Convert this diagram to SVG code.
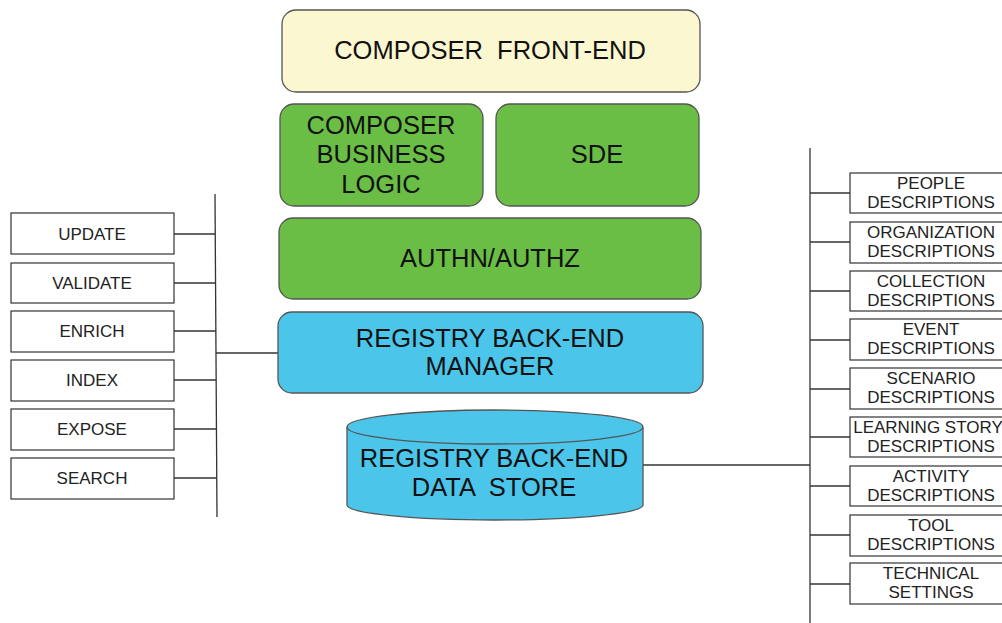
<svg xmlns="http://www.w3.org/2000/svg" width="1002" height="623" viewBox="0 0 1002 623">
  <style>
    .big { font-family: "Liberation Sans", Arial, sans-serif; font-size: 25.5px; fill: #111; text-anchor: middle; white-space: pre; }
    .sm { font-family: "Liberation Sans", Arial, sans-serif; font-size: 17px; fill: #222; text-anchor: middle; }
    .layer { stroke: #555; stroke-width: 1.3; }
    .box { fill: #fff; stroke: #333; stroke-width: 1.2; }
    .wire { stroke: #333; stroke-width: 1.3; fill: none; }
  </style>
  <rect width="1002" height="623" fill="#fff"/>

  <g id="connectors">
    <!-- left bus -->
    <line class="wire" x1="215" y1="194" x2="217" y2="517"/>
    <line class="wire" x1="216" y1="353" x2="279" y2="353"/>
    <line class="wire" x1="174" y1="234" x2="215" y2="234"/>
    <line class="wire" x1="174" y1="283" x2="216" y2="283"/>
    <line class="wire" x1="174" y1="331" x2="216" y2="331"/>
    <line class="wire" x1="174" y1="380" x2="216" y2="380"/>
    <line class="wire" x1="174" y1="429" x2="217" y2="429"/>
    <line class="wire" x1="174" y1="478" x2="217" y2="478"/>
    <!-- right bus -->
    <line class="wire" x1="810" y1="148" x2="810" y2="623"/>
    <line class="wire" x1="643" y1="465" x2="810" y2="465"/>
    <line class="wire" x1="810" y1="193" x2="850" y2="193"/>
    <line class="wire" x1="810" y1="242" x2="850" y2="242"/>
    <line class="wire" x1="810" y1="291" x2="850" y2="291"/>
    <line class="wire" x1="810" y1="340" x2="850" y2="340"/>
    <line class="wire" x1="810" y1="389" x2="850" y2="389"/>
    <line class="wire" x1="810" y1="437" x2="850" y2="437"/>
    <line class="wire" x1="810" y1="486" x2="850" y2="486"/>
    <line class="wire" x1="810" y1="535" x2="850" y2="535"/>
    <line class="wire" x1="810" y1="584" x2="850" y2="584"/>
  </g>

  <g id="composer-front-end">
    <rect class="layer" x="282" y="10" width="418" height="82" rx="14" fill="#fbf7d0"/>
    <text class="big" x="490" y="59" xml:space="preserve">COMPOSER  FRONT-END</text>
  </g>
  <g id="composer-business-logic">
    <rect class="layer" x="280" y="104" width="203" height="102" rx="14" fill="#6abd45"/>
    <text class="big" x="381" y="134">COMPOSER</text>
    <text class="big" x="381" y="163">BUSINESS</text>
    <text class="big" x="381" y="193">LOGIC</text>
  </g>
  <g id="sde">
    <rect class="layer" x="496" y="104" width="203" height="102" rx="14" fill="#6abd45"/>
    <text class="big" x="597" y="163">SDE</text>
  </g>
  <g id="authn-authz">
    <rect class="layer" x="279" y="218" width="422" height="81" rx="14" fill="#6abd45"/>
    <text class="big" x="490" y="267">AUTHN/AUTHZ</text>
  </g>
  <g id="registry-manager">
    <rect class="layer" x="278" y="312" width="425" height="81" rx="14" fill="#4bc6ea"/>
    <text class="big" x="490" y="347">REGISTRY BACK-END</text>
    <text class="big" x="490" y="375">MANAGER</text>
  </g>
  <g id="registry-data-store">
    <path class="layer" d="M347 427 V505 A148 15 0 0 0 643 505 V427" fill="#4bc6ea"/>
    <ellipse class="layer" cx="495" cy="427" rx="148" ry="17" fill="#4bc6ea"/>
    <text class="big" x="494" y="467">REGISTRY BACK-END</text>
    <text class="big" x="494" y="496" xml:space="preserve">DATA  STORE</text>
  </g>

  <g id="update"><rect class="box" x="11" y="213" width="163" height="41"/><text class="sm" x="92" y="240">UPDATE</text></g>
  <g id="validate"><rect class="box" x="11" y="263" width="163" height="40"/><text class="sm" x="92" y="289">VALIDATE</text></g>
  <g id="enrich"><rect class="box" x="11" y="311" width="163" height="41"/><text class="sm" x="92" y="337">ENRICH</text></g>
  <g id="index"><rect class="box" x="11" y="360" width="163" height="41"/><text class="sm" x="92" y="386">INDEX</text></g>
  <g id="expose"><rect class="box" x="11" y="409" width="163" height="41"/><text class="sm" x="92" y="435">EXPOSE</text></g>
  <g id="search"><rect class="box" x="11" y="458" width="163" height="41"/><text class="sm" x="92" y="484">SEARCH</text></g>

  <g id="people"><rect class="box" x="850" y="173" width="160" height="40"/><text class="sm" x="931" y="189">PEOPLE</text><text class="sm" x="931" y="208">DESCRIPTIONS</text></g>
  <g id="organization"><rect class="box" x="850" y="222" width="160" height="41"/><text class="sm" x="931" y="238">ORGANIZATION</text><text class="sm" x="931" y="257">DESCRIPTIONS</text></g>
  <g id="collection"><rect class="box" x="850" y="271" width="160" height="40"/><text class="sm" x="931" y="287">COLLECTION</text><text class="sm" x="931" y="306">DESCRIPTIONS</text></g>
  <g id="event"><rect class="box" x="850" y="319" width="160" height="41"/><text class="sm" x="931" y="335">EVENT</text><text class="sm" x="931" y="354">DESCRIPTIONS</text></g>
  <g id="scenario"><rect class="box" x="850" y="368" width="160" height="41"/><text class="sm" x="931" y="384">SCENARIO</text><text class="sm" x="931" y="403">DESCRIPTIONS</text></g>
  <g id="learning-story"><rect class="box" x="850" y="417" width="160" height="40"/><text class="sm" x="928" y="433">LEARNING STORY</text><text class="sm" x="931" y="452">DESCRIPTIONS</text></g>
  <g id="activity"><rect class="box" x="850" y="466" width="160" height="40"/><text class="sm" x="931" y="482">ACTIVITY</text><text class="sm" x="931" y="501">DESCRIPTIONS</text></g>
  <g id="tool"><rect class="box" x="850" y="515" width="160" height="41"/><text class="sm" x="931" y="531">TOOL</text><text class="sm" x="931" y="550">DESCRIPTIONS</text></g>
  <g id="technical-settings"><rect class="box" x="850" y="563" width="160" height="41"/><text class="sm" x="931" y="579">TECHNICAL</text><text class="sm" x="931" y="598">SETTINGS</text></g>
</svg>
